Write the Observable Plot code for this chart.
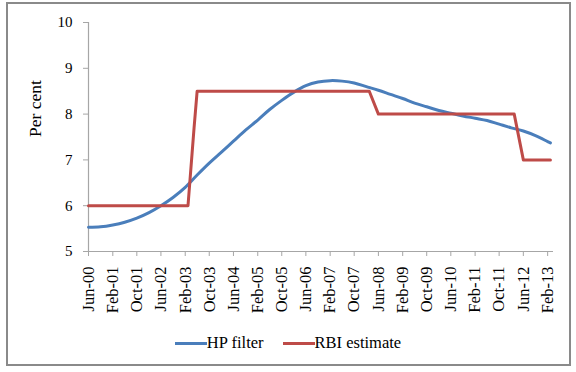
<!DOCTYPE html>
<html>
<head>
<meta charset="utf-8">
<script src="https://cdn.jsdelivr.net/npm/d3@7"></script>
<script src="https://cdn.jsdelivr.net/npm/@observablehq/plot@0.6"></script>
<style>
  html, body { margin: 0; padding: 0; background: #fff; width: 576px; height: 372px; overflow: hidden; }
  #wrap { position: relative; width: 576px; height: 372px; font-family: "Liberation Serif", "Times New Roman", serif; }
  #frame { position: absolute; left: 6px; top: 2px; width: 565px; height: 364px; box-sizing: border-box; border: 2px solid #8a8a8a; pointer-events: none; }
  #chart { position: absolute; left: 0; top: 0; }
  #legend { position: absolute; left: 0; top: 333px; width: 576px; height: 20px; display: flex; justify-content: center; align-items: center; font-size: 16.5px; color: #000; font-family: "Liberation Serif", "Times New Roman", serif; }
  .item { display: flex; align-items: center; }
  .swatch { width: 32px; height: 3px; display: inline-block; }
  .gap { width: 19px; }
</style>
</head>
<body>
<div id="wrap">
  <div id="chart"></div>
  <div id="legend"></div>
  <div id="frame"></div>
</div>
<script>
// ---- data ----
const hpLabels = ["Jun-00","Oct-00","Feb-01","Jun-01","Oct-01","Feb-02","Jun-02","Oct-02","Feb-03","Jun-03",
  "Oct-03","Feb-04","Jun-04","Oct-04","Feb-05","Jun-05","Oct-05","Feb-06","Jun-06","Oct-06",
  "Feb-07","Jun-07","Oct-07","Feb-08","Jun-08","Oct-08","Feb-09","Jun-09","Oct-09","Feb-10",
  "Jun-10","Oct-10","Feb-11","Jun-11","Oct-11","Feb-12","Jun-12","Oct-12","Feb-13","Mar-13"];
const hpValues = [5.53,5.54,5.58,5.64,5.73,5.85,6.00,6.18,6.40,6.67,
  6.93,7.17,7.41,7.65,7.87,8.10,8.30,8.48,8.62,8.70,
  8.73,8.72,8.68,8.60,8.52,8.43,8.34,8.24,8.16,8.08,
  8.02,7.96,7.91,7.86,7.78,7.70,7.63,7.53,7.40,7.37];
const rbiLabels = ["Jun-00","Mar-03","May-03","Jun-03","Mar-08","Jun-08","Mar-12","Jun-12","Mar-13"];
const rbiValues = [6,6,7.7,8.5,8.5,8,8,7,7];
const xTickLabels = ["Jun-00","Feb-01","Oct-01","Jun-02","Feb-03","Oct-03","Jun-04","Feb-05","Oct-05","Jun-06",
  "Feb-07","Oct-07","Jun-08","Feb-09","Oct-09","Jun-10","Feb-11","Oct-11","Jun-12","Feb-13"];
const yTicks = [5,6,7,8,9,10];
const seriesNames = ["HP filter","RBI estimate"];
const seriesColors = ["#4a7ebb","#be4b48"];

const SERIF = "'Liberation Serif', 'Times New Roman', serif";
const parse = d3.utcParse("%b-%y");
const fmt = d3.utcFormat("%b-%y");
const hp = hpLabels.map((l,i) => ({date: parse(l), value: hpValues[i]}));
const rbi = rbiLabels.map((l,i) => ({date: parse(l), value: rbiValues[i]}));
const xTicks = xTickLabels.map(parse);

const chart = Plot.plot({
  width: 576,
  height: 330,
  marginLeft: 88,
  marginRight: 23,
  marginTop: 22,
  marginBottom: 79,
  style: {background: "transparent", color: "#000"},
  x: {type: "utc", domain: [parse("Jun-00"), parse("Apr-13")]},
  y: {domain: [5, 10]},
  marks: [
    Plot.ruleY([5], {stroke: "#a6a6a6", strokeWidth: 1.2}),
    Plot.ruleX([parse("Jun-00")], {stroke: "#a6a6a6", strokeWidth: 1.2}),
    Plot.axisY({ticks: yTicks, tickFormat: d3.format("d"), tickSize: 5, tickPadding: 11, stroke: "#a6a6a6", fill: "#000", fontSize: 15, label: null}),
    Plot.axisX({ticks: xTicks, tickFormat: fmt, tickRotate: -90, tickSize: 5, tickPadding: 10, stroke: "#a6a6a6", fill: "#000", fontSize: 16.5, label: null}),
    Plot.line(hp, {x: "date", y: "value", stroke: seriesColors[0], strokeWidth: 3, curve: "catmull-rom"}),
    Plot.line(rbi, {x: "date", y: "value", stroke: seriesColors[1], strokeWidth: 3}),
    Plot.text(["Per cent"], {frameAnchor: "left", dx: -53, rotate: -90, fontSize: 17.5, fill: "#000"})
  ]
});
chart.style.fontFamily = SERIF;
chart.setAttribute("font-family", SERIF);
chart.querySelectorAll("g, text").forEach(el => {
  el.setAttribute("font-family", SERIF);
  el.style.fontFamily = SERIF;
});
document.getElementById("chart").appendChild(chart);

const legend = document.getElementById("legend");
seriesNames.forEach((name, i) => {
  if (i > 0) { const g = document.createElement("span"); g.className = "gap"; legend.appendChild(g); }
  const item = document.createElement("span");
  item.className = "item";
  const sw = document.createElement("span");
  sw.className = "swatch";
  sw.style.background = seriesColors[i];
  const t = document.createElement("span");
  t.textContent = name;
  item.appendChild(sw);
  item.appendChild(t);
  legend.appendChild(item);
});
</script>
</body>
</html>
